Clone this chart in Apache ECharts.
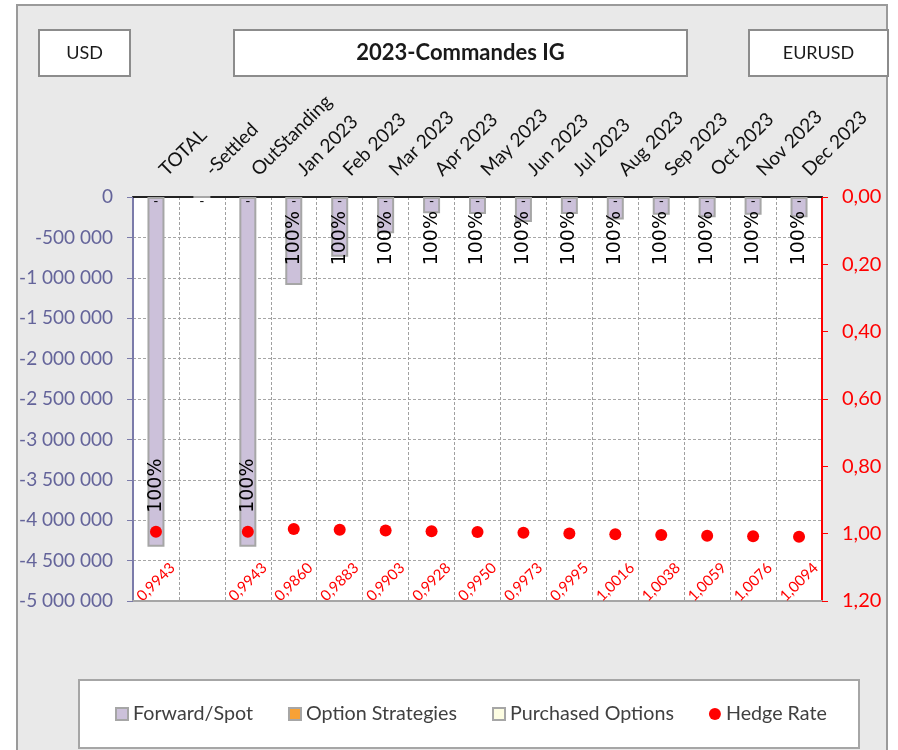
<!DOCTYPE html>
<html>
<head>
<meta charset="utf-8">
<script src="https://cdn.jsdelivr.net/npm/echarts@6.0.0/dist/echarts.min.js"></script>
<style>
  html, body { margin: 0; padding: 0; background: #fff; }
  #chart { width: 898px; height: 750px; }
</style>
</head>
<body>
<div id="chart"></div>
<script>
// categories along the x axis
const categories = ['TOTAL', '-Settled', 'OutStanding', 'Jan 2023', 'Feb 2023', 'Mar 2023', 'Apr 2023',
  'May 2023', 'Jun 2023', 'Jul 2023', 'Aug 2023', 'Sep 2023', 'Oct 2023', 'Nov 2023', 'Dec 2023'];

// Forward/Spot amounts (USD)
const forwardSpot = [-4330000, 0, -4330000, -1090000, -740000, -450000, -200000,
  -210000, -310000, -210000, -280000, -220000, -250000, -220000, -250000];

// hedge ratio labels shown on the bars
const coverage = ['100%', '', '100%', '100%', '100%', '100%', '100%',
  '100%', '100%', '100%', '100%', '100%', '100%', '100%', '100%'];

const optionStrategies = [0, 0, 0, 0, 0, 0, 0, 0, 0, 0, 0, 0, 0, 0, 0];
const purchasedOptions = [null, null, null, null, null, null, null, null, null, null, null, null, null, null, null];

// EURUSD hedge rate
const hedgeRate = [0.9943, null, 0.9943, 0.9860, 0.9883, 0.9903, 0.9928,
  0.9950, 0.9973, 0.9995, 1.0016, 1.0038, 1.0059, 1.0076, 1.0094];

const leftTicks = { min: -5000000, max: 0, step: 500000 };
const rightTicks = { min: 0, max: 1.2, step: 0.2 };

const fmtSpace = v => {
  const s = String(Math.abs(v)).replace(/\B(?=(\d{3})+(?!\d))/g, ' ');
  return (v < 0 ? '-' : '') + s;
};
const fmtRate = (v, d) => v == null ? '' : v.toFixed(d).replace('.', ',');

const font = 'Lato, "Noto Sans", sans-serif';
const barBorder = '#a6a6a6';

const chart = echarts.init(document.getElementById('chart'));

const box = (x, y, w, h, text, size, bold) => ({
  type: 'group',
  children: [
    { type: 'rect', shape: { x: x, y: y, width: w, height: h },
      style: { fill: '#fff', stroke: '#8c8c8c', lineWidth: 2 } },
    { type: 'text', x: x + w / 2, y: y + h / 2,
      style: { text: text, fill: '#1a1a1a', font: (bold ? 'bold ' : '') + size + 'px ' + font,
        align: 'center', verticalAlign: 'middle' } }
  ]
});

const option = {
  animation: false,
  backgroundColor: '#fff',
  graphic: [
    { type: 'rect', z: -10, shape: { x: 17, y: 5, width: 870, height: 760 },
      style: { fill: '#e9e9e9', stroke: '#9a9a9a', lineWidth: 2 } },
    box(39, 30, 91, 46, 'USD', 18, false),
    box(234, 30, 453, 46, '2023-Commandes IG', 22, true),
    box(749, 30, 139, 46, 'EURUSD', 18, false),
    { type: 'rect', z: -5, shape: { x: 79, y: 680, width: 780, height: 68 },
      style: { fill: '#fff', stroke: '#a6a6a6', lineWidth: 2 } }
  ],
  grid: {
    left: 133, top: 197, width: 689, height: 404,
    show: true, backgroundColor: '#fff', borderWidth: 0,
    outerBoundsMode: 'none'
  },
  legend: {
    left: 115, top: 704, padding: 0,
    itemWidth: 12, itemHeight: 12, itemGap: 35,
    textStyle: { fontFamily: font, fontSize: 19.7, color: '#404040' },
    data: [
      { name: 'Forward/Spot', icon: 'rect', itemStyle: { borderColor: barBorder, borderWidth: 2 } },
      { name: 'Option Strategies', icon: 'rect', itemStyle: { borderColor: barBorder, borderWidth: 2 } },
      { name: 'Purchased Options', icon: 'rect', itemStyle: { borderColor: barBorder, borderWidth: 2 } },
      { name: 'Hedge Rate', icon: 'circle' }
    ]
  },
  xAxis: [
    {
      type: 'category', position: 'top', data: categories,
      axisLine: { onZero: false, lineStyle: { color: '#222', width: 2 } },
      axisTick: { inside: true, length: 6, lineStyle: { color: '#222' } },
      axisLabel: { interval: 0, rotate: -45, margin: 31, align: 'left', verticalAlign: 'top',
        fontFamily: font, fontSize: 19, color: '#111' },
      splitLine: { show: true, interval: 0, lineStyle: { color: '#a0a0a0', type: [3, 2] } }
    },
    {
      type: 'category', position: 'bottom', data: categories,
      axisLine: { onZero: false, lineStyle: { color: '#a6a6a6', width: 2 } },
      axisTick: { show: false },
      axisLabel: { inside: true, interval: 0, rotate: 45, margin: 19, align: 'center', verticalAlign: 'middle',
        fontFamily: font, fontSize: 15, color: '#ff0000',
        formatter: (v, i) => fmtRate(hedgeRate[i], 4) }
    }
  ],
  yAxis: [
    {
      type: 'value', position: 'left',
      min: leftTicks.min, max: leftTicks.max, interval: leftTicks.step,
      axisLine: { show: true, lineStyle: { color: '#7b7baa', width: 2 } },
      axisTick: { show: true, length: 6, lineStyle: { color: '#7b7baa' } },
      axisLabel: { fontFamily: font, fontSize: 19, color: '#64649a', margin: 20, formatter: fmtSpace },
      splitLine: { lineStyle: { color: '#a6a6a6', type: [3, 2] } }
    },
    {
      type: 'value', position: 'right', inverse: true,
      min: rightTicks.min, max: rightTicks.max, interval: rightTicks.step,
      axisLine: { show: true, lineStyle: { color: '#ff0000', width: 2 } },
      axisTick: { show: true, length: 6, lineStyle: { color: '#ff0000' } },
      axisLabel: { fontFamily: font, fontSize: 20, color: '#ff0000', margin: 20, formatter: v => fmtRate(v, 2) },
      splitLine: { show: false }
    }
  ],
  series: [
    {
      name: 'Forward/Spot', type: 'bar', barWidth: 17, barGap: '-100%',
      itemStyle: { color: '#ccc1da', borderColor: barBorder, borderWidth: 2 },
      label: {
        show: true, rotate: 90, position: 'insideTop', distance: 14,
        align: 'right', verticalAlign: 'middle',
        fontFamily: '"DejaVu Sans", sans-serif', fontSize: 19, color: '#000',
        formatter: p => coverage[p.dataIndex]
      },
      data: forwardSpot.map((v, i) => {
        const big = v < leftTicks.min / 2;
        return big
          ? { value: v, label: { position: 'insideBottom', distance: 34, align: 'left' } }
          : v;
      }),
      z: 2
    },
    {
      name: 'Option Strategies', type: 'bar', barWidth: 17, barGap: '-100%',
      itemStyle: { color: '#f7a135', borderWidth: 0 },
      label: { show: true, position: 'insideTop', distance: -3, formatter: '-',
        fontFamily: font, fontSize: 14, color: '#000' },
      data: optionStrategies, z: 3
    },
    {
      name: 'Purchased Options', type: 'bar', barWidth: 17, barGap: '-100%',
      itemStyle: { color: '#fdfde2', borderWidth: 0 },
      data: purchasedOptions
    },
    {
      name: 'Hedge Rate', type: 'scatter', yAxisIndex: 1,
      symbol: 'circle', symbolSize: 12,
      itemStyle: { color: '#ff0000', opacity: 1 },
      data: hedgeRate, z: 5
    }
  ]
};

chart.setOption(option);
</script>
</body>
</html>
